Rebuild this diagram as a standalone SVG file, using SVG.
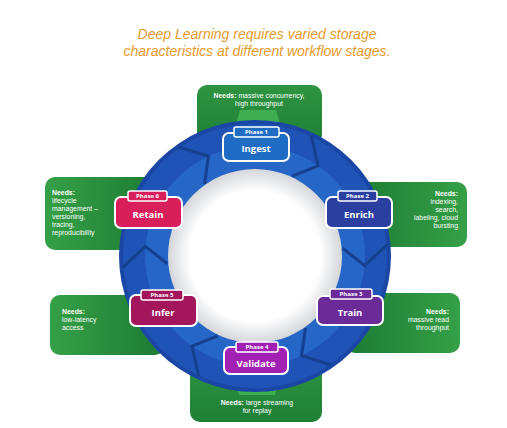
<svg xmlns="http://www.w3.org/2000/svg" width="507" height="428" viewBox="0 0 507 428">
<defs>
<linearGradient id="gv" x1="0" y1="0" x2="0" y2="1"><stop offset="0" stop-color="#2e9441"/><stop offset="1" stop-color="#1f7f36"/></linearGradient>
<linearGradient id="gh" x1="0" y1="0" x2="1" y2="0"><stop offset="0" stop-color="#35a047"/><stop offset="1" stop-color="#1d7a33"/></linearGradient>
<linearGradient id="ghr" x1="1" y1="0" x2="0" y2="0"><stop offset="0" stop-color="#35a047"/><stop offset="1" stop-color="#1d7a33"/></linearGradient>
<radialGradient id="inner" cx="0.5" cy="0.5" r="0.5"><stop offset="0.75" stop-color="#ffffff"/><stop offset="1" stop-color="#d4d6da"/></radialGradient>
</defs>
<style>
.title{font-family:"Liberation Sans",Arial,sans-serif;font-style:italic;font-size:14px;fill:#e79a2c;text-anchor:middle}
.need{font-family:"Liberation Sans",Arial,sans-serif;font-size:6.9px;fill:#ffffff}
.nb{font-weight:bold}
.box{stroke:#ffffff;stroke-width:2}
.tab{stroke:#ffffff;stroke-width:1.5}
.ph{font-family:"Open Sans","Liberation Sans",sans-serif;font-size:6px;font-weight:bold;fill:#ffffff;text-anchor:middle}
.nm{font-family:"Open Sans","Liberation Sans",sans-serif;font-size:9.5px;font-weight:bold;fill:#ffffff;text-anchor:middle}
.chev{fill:none;stroke:#14408f;stroke-width:3;stroke-linejoin:miter}
.neck{fill:#3fae50}
</style>
<rect width="507" height="428" fill="#ffffff"/>
<text class="title" x="257" y="39">Deep Learning requires varied storage</text>
<text class="title" x="257" y="56">characteristics at different workflow stages.</text>

<g id="needs-ingest">
<rect x="197" y="85" width="125" height="60" rx="10" fill="url(#gv)"/>
<polygon class="neck" points="240,110 276,110 280,124 236,124"/>
<text class="need" x="259" y="98" text-anchor="middle"><tspan class="nb">Needs:</tspan> massive concurrency,</text>
<text class="need" x="259" y="106" text-anchor="middle">high throughput</text>
</g>
<g id="needs-enrich">
<rect x="350" y="182" width="117" height="65" rx="10" fill="url(#ghr)"/>
<text class="need nb" x="458" y="196" text-anchor="end">Needs:</text>
<text class="need" x="458" y="204" text-anchor="end">indexing,</text>
<text class="need" x="458" y="212" text-anchor="end">search,</text>
<text class="need" x="458" y="220" text-anchor="end">labeling, cloud</text>
<text class="need" x="458" y="228" text-anchor="end">bursting</text>
</g>
<g id="needs-retain">
<rect x="45" y="177" width="115" height="73" rx="10" fill="url(#gh)"/>
<text class="need nb" x="52" y="195">Needs:</text>
<text class="need" x="52" y="203">lifecycle</text>
<text class="need" x="52" y="211">management –</text>
<text class="need" x="52" y="219">versioning,</text>
<text class="need" x="52" y="227">tracing,</text>
<text class="need" x="52" y="235">reproducibility</text>
</g>
<g id="needs-infer">
<rect x="50" y="295" width="115" height="60" rx="10" fill="url(#gh)"/>
<text class="need nb" x="62" y="314">Needs:</text>
<text class="need" x="62" y="322">low-latency</text>
<text class="need" x="62" y="330">access</text>
</g>
<g id="needs-train">
<rect x="345" y="293" width="115" height="60" rx="10" fill="url(#ghr)"/>
<text class="need nb" x="449" y="314" text-anchor="end">Needs:</text>
<text class="need" x="449" y="322" text-anchor="end">massive read</text>
<text class="need" x="449" y="330" text-anchor="end">throughput</text>
</g>
<g id="needs-validate">
<rect x="190" y="362" width="132" height="60" rx="10" fill="url(#gv)"/>
<polygon class="neck" points="234,378 280,378 275,395 239,395"/>
<text class="need" x="257" y="405" text-anchor="middle"><tspan class="nb">Needs:</tspan> large streaming</text>
<text class="need" x="257" y="413" text-anchor="middle">for replay</text>
</g>

<g id="ring">
<circle cx="255" cy="256" r="136" fill="#1a47a6"/>
<circle cx="255" cy="256" r="132" fill="#1f54b6"/>
<circle cx="255" cy="256" r="110" fill="#2666c6"/>
<circle cx="255" cy="256" r="87" fill="url(#inner)"/>
</g>
<g id="connectors">
<polyline class="chev" points="311.2,135.5 318.1,165.9 292.2,176.2"/>
<polyline class="chev" points="387.5,244.4 364.6,265.6 342.7,248.3"/>
<polyline class="chev" points="331.3,365.0 301.5,355.7 305.5,328.1"/>
<polyline class="chev" points="198.8,376.5 191.9,346.1 217.8,335.8"/>
<polyline class="chev" points="122.5,267.6 145.4,246.4 167.3,263.7"/>
<polyline class="chev" points="178.7,147.0 208.5,156.3 204.5,183.9"/>
</g>

<g id="phase1">
<rect class="box" x="223" y="133" width="66" height="28" rx="6" fill="#1f6cc4"/>
<rect class="tab" x="234" y="127" width="45" height="10" rx="2" fill="#1f6cc4"/>
<text class="ph" x="256.5" y="134.3">Phase 1</text>
<text class="nm" x="256" y="152">Ingest</text>
</g>
<g id="phase2">
<rect class="box" x="326" y="197" width="66" height="31" rx="6" fill="#2a3fa0"/>
<rect class="tab" x="338" y="191" width="39" height="10" rx="2" fill="#2a3fa0"/>
<text class="ph" x="357.5" y="198.3">Phase 2</text>
<text class="nm" x="359" y="218">Enrich</text>
</g>
<g id="phase3">
<rect class="box" x="317" y="296" width="66" height="29" rx="6" fill="#6a2b98"/>
<rect class="tab" x="330" y="289" width="42" height="10" rx="2" fill="#6a2b98"/>
<text class="ph" x="351" y="296.3">Phase 3</text>
<text class="nm" x="350" y="315.5">Train</text>
</g>
<g id="phase4">
<rect class="box" x="224" y="347" width="64" height="27" rx="6" fill="#a320b4"/>
<rect class="tab" x="236" y="342" width="42" height="10" rx="2" fill="#a320b4"/>
<text class="ph" x="257" y="349.3">Phase 4</text>
<text class="nm" x="256" y="367">Validate</text>
</g>
<g id="phase5">
<rect class="box" x="130" y="295" width="67" height="31" rx="6" fill="#a3165c"/>
<rect class="tab" x="141" y="290" width="42" height="10" rx="2" fill="#a3165c"/>
<text class="ph" x="162" y="297.3">Phase 5</text>
<text class="nm" x="163" y="315.5">Infer</text>
</g>
<g id="phase6">
<rect class="box" x="115" y="197" width="67" height="31" rx="6" fill="#d81f5c"/>
<rect class="tab" x="128" y="191" width="39" height="10" rx="2" fill="#d81f5c"/>
<text class="ph" x="147.5" y="198.3">Phase 6</text>
<text class="nm" x="148" y="218">Retain</text>
</g>
</svg>
